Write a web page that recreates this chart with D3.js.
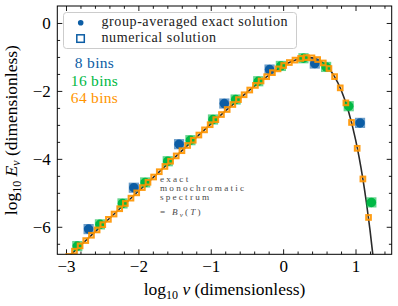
<!DOCTYPE html>
<html>
<head>
<meta charset="utf-8">
<script src="https://cdn.jsdelivr.net/npm/d3@7"></script>
<style>
body { margin: 0; background: #fff; }
</style>
</head>
<body>
<div id="chart"></div>
<script>
// bin centres (log10 nu) and group-averaged values (log10 E_nu)
const logNu8 = [-2.6875, -2.0625, -1.4375, -0.8125, -0.1875, 0.4375, 1.0625];
const logE8 = [-6.068, -4.85, -3.568, -2.371, -1.371, -1.194, -2.941];

const logNu16 = [-2.844, -2.531, -2.219, -1.906, -1.594, -1.281, -0.969, -0.656, -0.344, -0.031, 0.281, 0.594, 0.906, 1.219];
const logE16 = [-6.568, -5.929, -5.312, -4.694, -4.07, -3.45, -2.841, -2.253, -1.715, -1.265, -1.038, -1.294, -2.450, -5.282];

const logNu64 = [-2.961, -2.883, -2.805, -2.727, -2.648, -2.570, -2.492, -2.414, -2.336, -2.258,
    -2.180, -2.102, -2.023, -1.945, -1.867, -1.789, -1.711, -1.633, -1.555, -1.477,
    -1.398, -1.320, -1.242, -1.164, -1.086, -1.008, -0.930, -0.852, -0.773, -0.695,
    -0.617, -0.539, -0.461, -0.383, -0.305, -0.227, -0.148, -0.070, 0.008, 0.086,
    0.164, 0.242, 0.320, 0.398, 0.477, 0.555, 0.633, 0.711, 0.789, 0.867,
    0.945, 1.023, 1.102, 1.180];
const logE64 = [-6.874, -6.718, -6.562, -6.406, -6.249, -6.093, -5.937, -5.781, -5.625, -5.469,
    -5.313, -5.157, -5.001, -4.846, -4.690, -4.535, -4.379, -4.224, -4.069, -3.914,
    -3.760, -3.606, -3.452, -3.299, -3.147, -2.995, -2.845, -2.695, -2.547, -2.400,
    -2.255, -2.113, -1.974, -1.838, -1.707, -1.581, -1.462, -1.351, -1.251, -1.164,
    -1.093, -1.043, -1.019, -1.027, -1.077, -1.177, -1.340, -1.579, -1.910, -2.352,
    -2.928, -3.690, -4.592, -5.725];

// exact monochromatic spectrum
const curveLogNu = [-3.12, -2.5, -2.0, -1.5, -1.0, -0.8, -0.6, -0.4, -0.2, 0.0, 0.1, 0.2, 0.3,
    0.4, 0.5, 0.6, 0.7, 0.8, 0.9, 1.0, 1.05, 1.1, 1.15, 1.2, 1.25];
const curveLogE = [-7.192, -5.953, -4.955, -3.961, -2.980, -2.597, -2.224, -1.868, -1.540, -1.261,
    -1.150, -1.067, -1.022, -1.027, -1.100, -1.263, -1.540, -1.965, -2.577, -3.425,
    -3.956, -4.570, -5.278, -6.090, -7.020];

const xMajor = [-3, -2, -1, 0, 1];
const yMajor = [-6, -4, -2, 0];
const binLabels = ["8 bins", "16 bins", "64 bins"];

const width = 398;
const height = 306;
const margin = ({top: 6, right: 6.3, bottom: 51.7, left: 57.3});

const colours = {
    blue: "#0C5DA5",
    green: "#00B945",
    orange: "#FF9500"
};
const serif = "Liberation Serif";

const svg = d3.select("#chart")
    .append("svg")
    .attr("width", width)
    .attr("height", height)
    .attr("font-family", serif);

const x = d3.scaleLinear()
    .domain([-3.12, 1.5])
    .range([margin.left, width - margin.right]);

const y = d3.scaleLinear()
    .domain([-6.81, 0.5])
    .range([height - margin.bottom, margin.top]);

const xMinor = d3.range(-3, 1.5, 0.2).filter(v => Math.abs(v - Math.round(v)) > 1e-6);
const yMinor = d3.range(-6.5, 0.25, 0.5).filter(v => Math.abs(v / 2 - Math.round(v / 2)) > 1e-6);

// ticks on all four sides, pointing in
function addAxis(axis, transform, labels) {
    const g = svg.append("g")
        .attr("transform", transform)
        .call(axis)
        .attr("font-family", serif);
    g.select(".domain").remove();
    g.selectAll("line").attr("stroke", "#000").attr("stroke-width", 0.9);
    g.selectAll("text")
        .attr("font-family", serif)
        .attr("font-size", 17)
        .attr("fill", "#000");
    if (!labels) g.selectAll("text").remove();
    return g;
}

const fmt = d3.format("d");
addAxis(d3.axisBottom(x).tickValues(xMajor).tickSize(-5).tickPadding(6).tickFormat(fmt),
    `translate(0,${height - margin.bottom})`, true);
addAxis(d3.axisBottom(x).tickValues(xMinor).tickSize(-2.8).tickFormat(""),
    `translate(0,${height - margin.bottom})`, false);
addAxis(d3.axisTop(x).tickValues(xMajor).tickSize(-5).tickFormat(""),
    `translate(0,${margin.top})`, false);
addAxis(d3.axisTop(x).tickValues(xMinor).tickSize(-2.8).tickFormat(""),
    `translate(0,${margin.top})`, false);
addAxis(d3.axisLeft(y).tickValues(yMajor).tickSize(-5).tickPadding(6.5).tickFormat(fmt),
    `translate(${margin.left},0)`, true);
addAxis(d3.axisLeft(y).tickValues(yMinor).tickSize(-2.8).tickFormat(""),
    `translate(${margin.left},0)`, false);
addAxis(d3.axisRight(y).tickValues(yMajor).tickSize(-5).tickFormat(""),
    `translate(${width - margin.right},0)`, false);
addAxis(d3.axisRight(y).tickValues(yMinor).tickSize(-2.8).tickFormat(""),
    `translate(${width - margin.right},0)`, false);

svg.append("clipPath")
    .attr("id", "plot-clip")
    .append("rect")
    .attr("x", margin.left)
    .attr("y", margin.top)
    .attr("width", width - margin.left - margin.right)
    .attr("height", height - margin.top - margin.bottom);

const plot = svg.append("g").attr("clip-path", "url(#plot-clip)");

const line = d3.line()
    .x(d => x(d[0]))
    .y(d => y(d[1]))
    .curve(d3.curveMonotoneX);

plot.append("path")
    .attr("d", line(d3.zip(curveLogNu, curveLogE)))
    .attr("fill", "none")
    .attr("stroke", "#2a2a2a")
    .attr("stroke-width", 1.6);

// wide bins: filled circle (group-averaged) inside an open square (numerical)
function bigMarkers(xs, ys, colour) {
    const pts = d3.zip(xs, ys);
    const g = plot.append("g");
    g.selectAll("rect")
        .data(pts)
        .join("rect")
        .attr("x", d => x(d[0]) - 4.3)
        .attr("y", d => y(d[1]) - 4.3)
        .attr("width", 8.6)
        .attr("height", 8.6)
        .attr("fill", "none")
        .attr("stroke", colour)
        .attr("stroke-opacity", 0.6)
        .attr("stroke-width", 1.6);
    g.selectAll("circle")
        .data(pts)
        .join("circle")
        .attr("cx", d => x(d[0]))
        .attr("cy", d => y(d[1]))
        .attr("r", 4.75)
        .attr("fill", colour);
}

bigMarkers(logNu8, logE8, colours.blue);
bigMarkers(logNu16, logE16, colours.green);

plot.append("g")
    .selectAll("rect")
    .data(d3.zip(logNu64, logE64))
    .join("rect")
    .attr("x", d => x(d[0]) - 2.3)
    .attr("y", d => y(d[1]) - 2.3)
    .attr("width", 4.6)
    .attr("height", 4.6)
    .attr("fill", "none")
    .attr("stroke", colours.orange)
    .attr("stroke-opacity", 0.92)
    .attr("stroke-width", 2.1);

// frame
svg.append("rect")
    .attr("x", margin.left)
    .attr("y", margin.top)
    .attr("width", width - margin.left - margin.right)
    .attr("height", height - margin.top - margin.bottom)
    .attr("fill", "none")
    .attr("stroke", "#000")
    .attr("stroke-width", 1);

// legend
const legend = svg.append("g");
legend.append("rect")
    .attr("x", 63.5)
    .attr("y", 12.5)
    .attr("width", 233)
    .attr("height", 36)
    .attr("rx", 3)
    .attr("fill", "#fff")
    .attr("fill-opacity", 0.8)
    .attr("stroke", "#cccccc")
    .attr("stroke-width", 1);
legend.append("circle")
    .attr("cx", 80.7)
    .attr("cy", 22.7)
    .attr("r", 2.8)
    .attr("fill", colours.blue);
legend.append("rect")
    .attr("x", 76.8)
    .attr("y", 34.8)
    .attr("width", 7.5)
    .attr("height", 7.5)
    .attr("fill", "#fff")
    .attr("stroke", colours.blue)
    .attr("stroke-width", 1.5);
legend.selectAll("text")
    .data(["group-averaged exact solution", "numerical solution"])
    .join("text")
    .attr("x", 101.5)
    .attr("y", (d, i) => 26.2 + i * 15.7)
    .attr("font-family", serif)
    .attr("font-size", 14.1)
    .attr("letter-spacing", 0.55)
    .attr("fill", "#222")
    .text(d => d);

// bin-count labels
svg.append("g")
    .selectAll("text")
    .data(binLabels)
    .join("text")
    .attr("x", 94.5)
    .attr("y", (d, i) => 68.3 + i * 17.2)
    .attr("text-anchor", "middle")
    .attr("font-family", serif)
    .attr("font-size", 15.5)
    .attr("letter-spacing", 0.3)
    .attr("fill", (d, i) => [colours.blue, colours.green, colours.orange][i])
    .text(d => d);

// annotation, one text block
const note = svg.append("text")
    .attr("font-family", serif)
    .attr("font-size", 9.2)
    .attr("letter-spacing", 2.2)
    .attr("fill", "#4a4a4a");
["exact", "monochromatic", "spectrum"].forEach((t, i) => {
    note.append("tspan")
        .attr("x", 160)
        .attr("y", 181.6 + i * 9.3)
        .text(t);
});
note.append("tspan").attr("x", 160).attr("y", 214.5).text("= ");
note.append("tspan").attr("font-style", "italic").text("B");
note.append("tspan").attr("font-style", "italic").attr("font-size", 7).attr("dy", 2).text("ν");
note.append("tspan").attr("dy", -2).text("(");
note.append("tspan").attr("font-style", "italic").text("T");
note.append("tspan").text(")");

// axis labels
const xLabel = svg.append("text")
    .attr("x", (margin.left + width - margin.right) / 2)
    .attr("y", 294.5)
    .attr("text-anchor", "middle")
    .attr("font-family", serif)
    .attr("font-size", 17.5)
    .attr("fill", "#000");
xLabel.append("tspan").text("log");
xLabel.append("tspan").attr("font-size", 12).attr("dy", 4).text("10");
xLabel.append("tspan").attr("dy", -4).text(" ");
xLabel.append("tspan").attr("font-style", "italic").text("ν");
xLabel.append("tspan").text(" (dimensionless)");

const yLabel = svg.append("text")
    .attr("transform", `translate(16.5,${(margin.top + height - margin.bottom) / 2}) rotate(-90)`)
    .attr("text-anchor", "middle")
    .attr("font-family", serif)
    .attr("font-size", 17.5)
    .attr("fill", "#000");
yLabel.append("tspan").text("log");
yLabel.append("tspan").attr("font-size", 12).attr("dy", 4).text("10");
yLabel.append("tspan").attr("dy", -4).text(" ");
yLabel.append("tspan").attr("font-style", "italic").text("E");
yLabel.append("tspan").attr("font-style", "italic").attr("font-size", 12).attr("dy", 3).text("ν");
yLabel.append("tspan").attr("dy", -3).text(" (dimensionless)");
</script>
</body>
</html>
